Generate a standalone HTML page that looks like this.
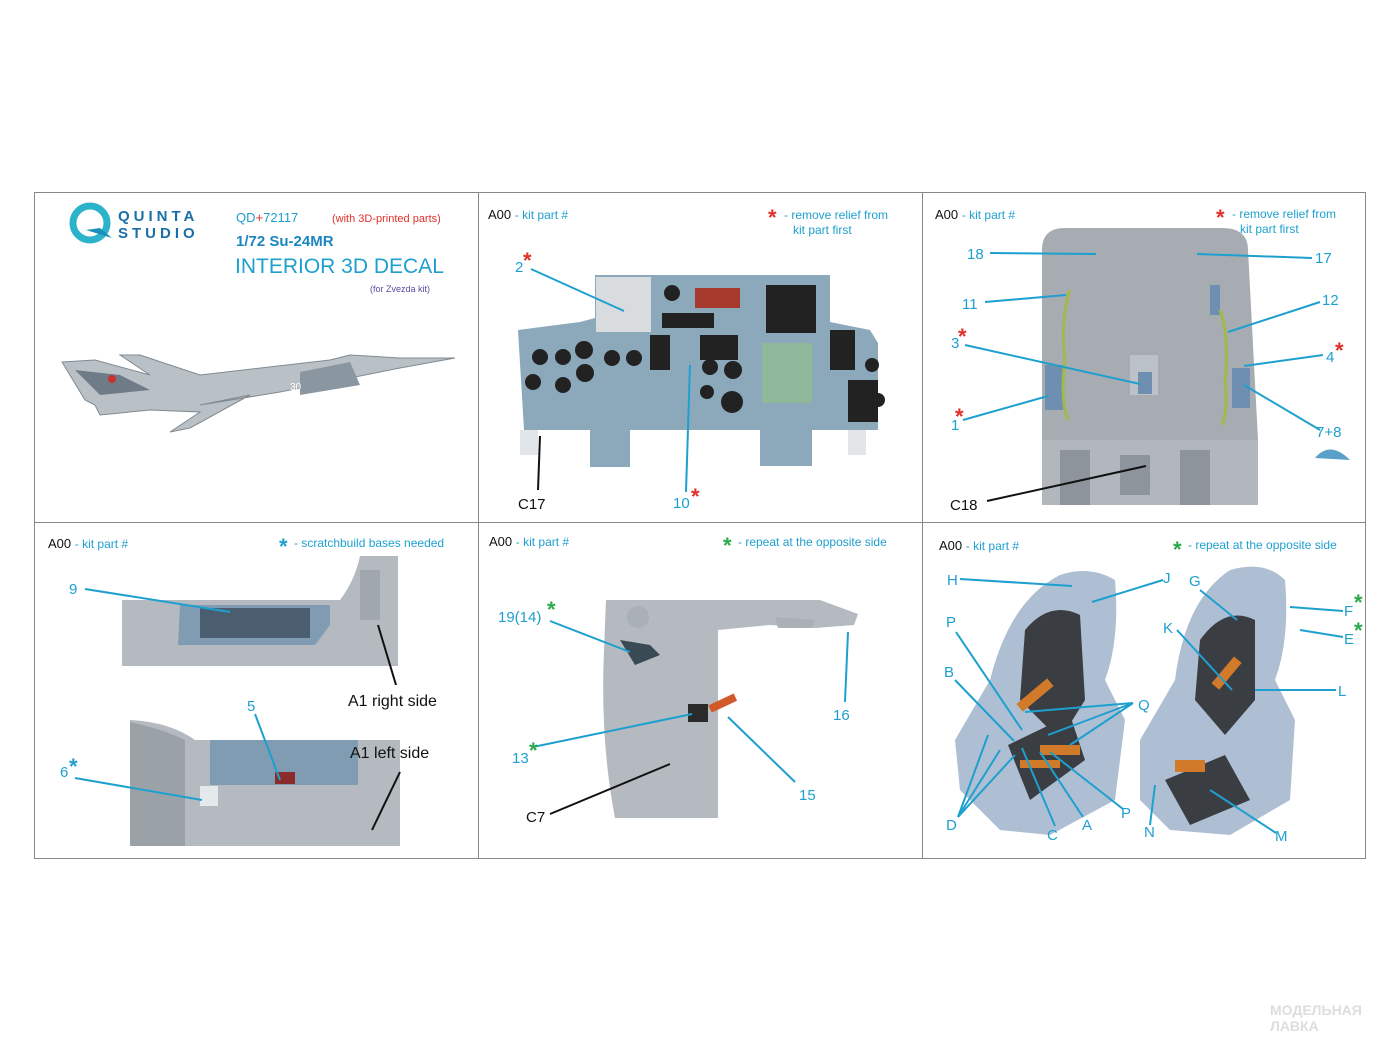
<!DOCTYPE html>
<html><head><meta charset="utf-8"><style>
html,body{margin:0;padding:0;background:#fff;}
svg{display:block;font-family:"Liberation Sans",Arial,sans-serif;}
.b{fill:#1ea0cf;}
.k{fill:#111;}
.r{fill:#e0302a;}
.g{fill:#2aa84a;}
.s{font-size:22px;font-weight:bold;}
.lb{stroke:#1ea0cf;stroke-width:2;fill:none;}
.lk{stroke:#111;stroke-width:2;fill:none;}
</style></head><body>
<svg width="1400" height="1050" viewBox="0 0 1400 1050">
<rect width="1400" height="1050" fill="#fff"/>
<rect x="34.5" y="192.5" width="1331" height="666" fill="none" stroke="#888" stroke-width="1"/>
<line x1="478.5" y1="192" x2="478.5" y2="858" stroke="#888"/>
<line x1="922.5" y1="192" x2="922.5" y2="858" stroke="#888"/>
<line x1="34" y1="522.5" x2="1366" y2="522.5" stroke="#888"/>

<!-- Panel 1 -->
<circle cx="90" cy="223" r="17" fill="none" stroke="#2bb3c9" stroke-width="7"/>
<path d="M86 230 L112 238 L100 228 Z" fill="#1a8fb8"/>
<text x="118" y="221" font-size="15" font-weight="bold" letter-spacing="4" fill="#1b6fa8">QUINTA</text>
<text x="118" y="238" font-size="15" font-weight="bold" letter-spacing="4" fill="#1b6fa8">STUDIO</text>
<text x="236" y="222" font-size="13" class="b">QD<tspan class="r">+</tspan>72117</text>
<text x="332" y="222" font-size="11" class="r">(with 3D-printed parts)</text>
<text x="236" y="246" font-size="15" font-weight="bold" fill="#1b86c0">1/72 Su-24MR</text>
<text x="235" y="273" font-size="21" class="b">INTERIOR 3D DECAL</text>
<text x="370" y="292" font-size="9" fill="#5a4aa0">(for Zvezda kit)</text>
<!-- aircraft -->
<path d="M62 362 L95 360 L150 375 L120 355 L140 355 L200 375 L330 360 L350 355 L400 358 L455 358 L400 368 L340 380 L280 392 L200 405 L250 395 L190 428 L170 432 L200 412 L150 410 L100 415 L95 405 L85 400 Z" fill="#b9c1c6" stroke="#7f8a92" stroke-width="1"/>
<path d="M75 370 L120 375 L150 390 L100 395 Z" fill="#6f7c88"/>
<path d="M300 372 L350 362 L360 385 L300 395 Z" fill="#8a96a0"/>
<circle cx="112" cy="379" r="4" fill="#c8322e"/>
<text x="290" y="390" font-size="10" fill="#fff">30</text>

<!-- Panel 2 -->
<text x="488" y="219" font-size="13" class="k">A00 <tspan class="b" font-size="12">- kit part #</tspan></text>
<text x="768" y="225" class="r s">*</text>
<text x="784" y="219" font-size="12" class="b">- remove relief from</text>
<text x="793" y="234" font-size="12" class="b">kit part first</text>
<path d="M595 275 L830 275 L830 322 L870 330 L878 343 L878 430 L524 430 L518 330 L580 322 L595 318 Z" fill="#8ca9bc"/>
<rect x="596" y="277" width="55" height="55" fill="#d8dcdf"/>
<rect x="590" y="427" width="40" height="40" fill="#8ca9bc"/>
<rect x="760" y="418" width="52" height="48" fill="#8ca9bc"/>
<rect x="520" y="430" width="18" height="25" fill="#e3e6e8"/>
<rect x="848" y="430" width="18" height="25" fill="#e3e6e8"/>
<g fill="#222">
<circle cx="540" cy="357" r="8"/><circle cx="563" cy="357" r="8"/><circle cx="584" cy="350" r="9"/><circle cx="585" cy="373" r="9"/>
<circle cx="612" cy="358" r="8"/><circle cx="634" cy="358" r="8"/><circle cx="533" cy="382" r="8"/><circle cx="563" cy="385" r="8"/>
<circle cx="710" cy="367" r="8"/><circle cx="733" cy="370" r="9"/><circle cx="732" cy="402" r="11"/><circle cx="707" cy="392" r="7"/>
<circle cx="872" cy="365" r="7"/><circle cx="878" cy="400" r="7"/><circle cx="672" cy="293" r="8"/>
<rect x="766" y="285" width="50" height="48"/><rect x="848" y="380" width="30" height="42"/>
<rect x="830" y="330" width="25" height="40"/><rect x="700" y="335" width="38" height="25"/>
<rect x="662" y="313" width="52" height="15"/><rect x="650" y="335" width="20" height="35"/>
</g>
<rect x="695" y="288" width="45" height="20" fill="#a63a2c"/>
<rect x="762" y="343" width="50" height="60" fill="#8fb79a"/>
<line x1="531" y1="269" x2="624" y2="311" class="lb"/>
<text x="515" y="272" font-size="15" class="b">2</text><text x="523" y="268" class="r s">*</text>
<line x1="686" y1="492" x2="690" y2="365" class="lb"/>
<text x="673" y="508" font-size="15" class="b">10</text><text x="691" y="504" class="r s">*</text>
<line x1="538" y1="490" x2="540" y2="436" class="lk"/>
<text x="518" y="509" font-size="15" class="k">C17</text>

<!-- Panel 3 -->
<text x="935" y="219" font-size="13" class="k">A00 <tspan class="b" font-size="12">- kit part #</tspan></text>
<text x="1216" y="225" class="r s">*</text>
<text x="1232" y="218" font-size="12" class="b">- remove relief from</text>
<text x="1240" y="233" font-size="12" class="b">kit part first</text>
<path d="M1042 250 Q1042 228 1065 228 L1222 228 Q1248 228 1248 250 L1258 440 L1258 505 L1042 505 Z" fill="#a6acb2"/>
<path d="M1042 440 L1258 440 L1258 505 L1042 505 Z" fill="#b1b7bd"/>
<g fill="#8d949b"><rect x="1060" y="450" width="30" height="55"/><rect x="1120" y="455" width="30" height="40"/><rect x="1180" y="450" width="30" height="55"/></g>
<rect x="1130" y="355" width="28" height="40" fill="#bac1c7"/>
<g fill="#6e8fb0"><rect x="1045" y="365" width="18" height="45"/><rect x="1138" y="372" width="14" height="22"/><rect x="1232" y="368" width="18" height="40"/><rect x="1210" y="285" width="10" height="30"/></g>
<g stroke="#a4b84a" stroke-width="3" fill="none"><path d="M1070 290 Q1060 320 1065 360 Q1060 400 1068 420"/><path d="M1220 310 Q1230 340 1225 380 Q1228 410 1222 425"/></g>
<g class="lb">
<line x1="990" y1="253" x2="1096" y2="254"/><line x1="1197" y1="254" x2="1312" y2="258"/>
<line x1="985" y1="302" x2="1066" y2="295"/><line x1="1320" y1="302" x2="1228" y2="332"/>
<line x1="965" y1="345" x2="1140" y2="384"/><line x1="1323" y1="355" x2="1244" y2="366"/>
<line x1="963" y1="420" x2="1048" y2="396"/><line x1="1320" y1="430" x2="1244" y2="385"/>
</g>
<text x="967" y="259" font-size="15" class="b">18</text><text x="1315" y="263" font-size="15" class="b">17</text>
<text x="962" y="309" font-size="15" class="b">11</text><text x="1322" y="305" font-size="15" class="b">12</text>
<text x="951" y="348" font-size="15" class="b">3</text><text x="958" y="344" class="r s">*</text>
<text x="1326" y="362" font-size="15" class="b">4</text><text x="1335" y="358" class="r s">*</text>
<text x="951" y="430" font-size="15" class="b">1</text><text x="955" y="424" class="r s">*</text>
<text x="1316" y="437" font-size="15" class="b">7+8</text>
<path d="M1315 458 Q1330 440 1350 460 Z" fill="#5aa0c8"/>
<line x1="987" y1="501" x2="1146" y2="466" class="lk"/>
<text x="950" y="510" font-size="15" class="k">C18</text>

<!-- Panel 4 -->
<text x="48" y="548" font-size="13" class="k">A00 <tspan class="b" font-size="12">- kit part #</tspan></text>
<text x="279" y="554" class="b s">*</text>
<text x="294" y="547" font-size="12" class="b">- scratchbuild bases needed</text>
<path d="M122 600 L340 600 Q355 580 360 556 L398 556 L398 666 L122 666 Z" fill="#b4babf"/>
<rect x="360" y="570" width="20" height="50" fill="#a0a7ad"/>
<path d="M180 605 L330 605 L330 625 L315 645 L178 645 Z" fill="#7f9cb2"/>
<rect x="200" y="608" width="110" height="30" fill="#4a5e70"/>
<path d="M130 720 Q170 722 195 740 L400 740 L400 846 L130 846 Z" fill="#b4babf"/>
<path d="M185 740 Q165 730 130 722 L130 846 L185 846 Z" fill="#9aa1a7"/>
<rect x="210" y="740" width="148" height="45" fill="#7f9cb2"/>
<rect x="200" y="786" width="18" height="20" fill="#e6e9eb"/>
<rect x="275" y="772" width="20" height="12" fill="#8a2c2c"/>
<line x1="85" y1="589" x2="230" y2="612" class="lb"/>
<text x="69" y="594" font-size="15" class="b">9</text>
<line x1="255" y1="714" x2="280" y2="780" class="lb"/>
<text x="247" y="711" font-size="15" class="b">5</text>
<line x1="75" y1="778" x2="202" y2="800" class="lb"/>
<text x="60" y="777" font-size="15" class="b">6</text><text x="69" y="774" class="b s">*</text>
<line x1="396" y1="685" x2="378" y2="625" class="lk"/>
<text x="348" y="706" font-size="16" class="k">A1 right side</text>
<line x1="400" y1="772" x2="372" y2="830" class="lk"/>
<text x="350" y="758" font-size="16" class="k">A1 left side</text>

<!-- Panel 5 -->
<text x="489" y="546" font-size="13" class="k">A00 <tspan class="b" font-size="12">- kit part #</tspan></text>
<text x="723" y="553" class="g s">*</text>
<text x="738" y="546" font-size="12" class="b">- repeat at the opposite side</text>
<path d="M606 600 L820 600 L858 614 L854 625 L815 628 L770 625 L718 630 L718 818 L615 818 Q600 740 604 650 Z" fill="#b4babf"/>
<circle cx="638" cy="617" r="11" fill="#a9b0b6"/>
<path d="M775 617 L815 620 L812 628 L778 628 Z" fill="#a9b0b6"/>
<rect x="688" y="704" width="20" height="18" fill="#2a2a2a"/>
<rect x="710" y="705" width="28" height="8" fill="#d25a2a" transform="rotate(-25 710 709)"/>
<path d="M620 640 L650 645 L660 655 L635 665 Z" fill="#3a4a55"/>
<line x1="550" y1="621" x2="630" y2="652" class="lb"/>
<text x="498" y="622" font-size="15" class="b">19(14)</text><text x="547" y="617" class="g s">*</text>
<line x1="533" y1="747" x2="692" y2="714" class="lb"/>
<text x="512" y="763" font-size="15" class="b">13</text><text x="529" y="758" class="g s">*</text>
<line x1="795" y1="782" x2="728" y2="717" class="lb"/>
<text x="799" y="800" font-size="15" class="b">15</text>
<line x1="845" y1="702" x2="848" y2="632" class="lb"/>
<text x="833" y="720" font-size="15" class="b">16</text>
<line x1="550" y1="814" x2="670" y2="764" class="lk"/>
<text x="526" y="822" font-size="15" class="k">C7</text>

<!-- Panel 6 -->
<text x="939" y="550" font-size="13" class="k">A00 <tspan class="b" font-size="12">- kit part #</tspan></text>
<text x="1173" y="557" class="g s">*</text>
<text x="1188" y="549" font-size="12" class="b">- repeat at the opposite side</text>
<path d="M990 680 Q1010 600 1060 575 Q1090 565 1115 580 Q1120 640 1105 680 L1125 720 L1115 800 L1050 835 L1000 830 L960 790 L955 740 Z" fill="#aebfd4"/>
<path d="M1025 630 Q1050 600 1080 615 L1085 700 L1060 740 L1020 700 Z" fill="#3a3d42"/>
<path d="M1008 745 L1070 715 L1085 760 L1030 800 Z" fill="#3a3d42"/>
<g fill="#d07a2a"><rect x="1015" y="690" width="40" height="10" transform="rotate(-40 1035 695)"/><rect x="1040" y="745" width="40" height="10"/><rect x="1020" y="760" width="40" height="8"/></g>
<path d="M1175 680 Q1185 600 1230 570 Q1265 560 1285 580 Q1290 640 1275 680 L1295 720 L1290 800 L1230 835 L1170 830 L1140 800 L1140 740 Z" fill="#aebfd4"/>
<path d="M1200 640 Q1225 605 1255 620 L1255 700 L1225 735 L1195 700 Z" fill="#3a3d42"/>
<path d="M1165 780 L1225 755 L1250 800 L1190 825 Z" fill="#3a3d42"/>
<g fill="#d07a2a"><rect x="1210" y="670" width="35" height="10" transform="rotate(-50 1225 675)"/><rect x="1175" y="760" width="30" height="12"/></g>
<g class="lb">
<line x1="960" y1="579" x2="1072" y2="586"/><line x1="1163" y1="580" x2="1092" y2="602"/>
<line x1="956" y1="632" x2="1022" y2="730"/><line x1="955" y1="680" x2="1014" y2="741"/>
<line x1="1133" y1="703" x2="1025" y2="712"/><line x1="1133" y1="703" x2="1048" y2="735"/><line x1="1133" y1="703" x2="1070" y2="745"/>
<line x1="958" y1="817" x2="988" y2="735"/><line x1="958" y1="817" x2="1000" y2="750"/><line x1="958" y1="817" x2="1015" y2="755"/>
<line x1="1055" y1="826" x2="1022" y2="748"/><line x1="1083" y1="817" x2="1040" y2="752"/><line x1="1123" y1="809" x2="1050" y2="752"/>
<line x1="1200" y1="590" x2="1237" y2="620"/><line x1="1343" y1="611" x2="1290" y2="607"/><line x1="1343" y1="637" x2="1300" y2="630"/>
<line x1="1177" y1="630" x2="1232" y2="690"/><line x1="1336" y1="690" x2="1255" y2="690"/>
<line x1="1150" y1="825" x2="1155" y2="785"/><line x1="1276" y1="833" x2="1210" y2="790"/>
</g>
<g class="b" font-size="15">
<text x="947" y="585">H</text><text x="1163" y="583">J</text><text x="1189" y="586">G</text>
<text x="1344" y="616">F</text><text x="1344" y="644">E</text><text x="946" y="627">P</text><text x="1163" y="633">K</text>
<text x="944" y="677">B</text><text x="1338" y="696">L</text><text x="1138" y="710">Q</text>
<text x="946" y="830">D</text><text x="1047" y="840">C</text><text x="1082" y="830">A</text><text x="1121" y="818">P</text>
<text x="1144" y="837">N</text><text x="1275" y="841">M</text>
</g>
<text x="1354" y="610" class="g s">*</text><text x="1354" y="638" class="g s">*</text>

<!-- watermark -->
<text x="1270" y="1015" font-size="14" fill="#ddd" font-weight="bold">МОДЕЛЬНАЯ</text>
<text x="1270" y="1031" font-size="14" fill="#ddd" font-weight="bold">ЛАВКА</text>
</svg>
</body></html>
